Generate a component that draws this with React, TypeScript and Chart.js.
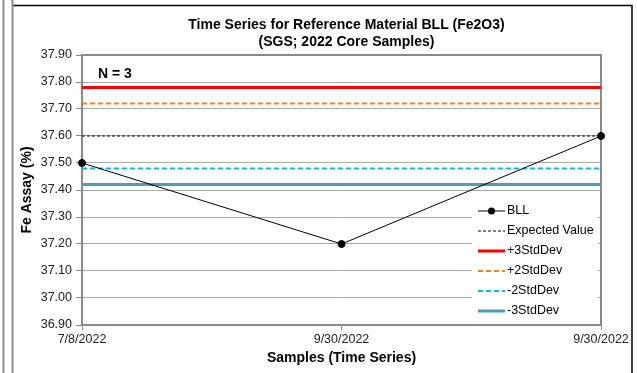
import React, { useEffect, useRef } from "react";
import { Chart, registerables } from "chart.js";

Chart.register(...registerables);

const categories = ["7/8/2022", "9/30/2022", "9/30/2022"];
const bllValues = [37.5, 37.2, 37.6];
const expectedValues = [37.6, 37.6, 37.6];
const plus3Values = [37.78, 37.78, 37.78];
const plus2Values = [37.72, 37.72, 37.72];
const minus2Values = [37.48, 37.48, 37.48];
const minus3Values = [37.42, 37.42, 37.42];
const titleLines = ["Time Series for Reference Material BLL (Fe2O3)", "(SGS; 2022 Core Samples)"];
const nLabel = "N = 3";
const yMin = 36.9;
const yMax = 37.9;
const yStep = 0.1;

const FONT = "'Liberation Sans', Arial, sans-serif";

const decor = {
  id: "decor",
  beforeDraw(chart: any) {
    const ctx = chart.ctx;
    ctx.save();
    ctx.fillStyle = "#ffffff";
    ctx.fillRect(0, 0, chart.width, chart.height);
    ctx.strokeStyle = "#8c8c8c";
    ctx.lineWidth = 2;
    ctx.beginPath();
    ctx.moveTo(3.5, 0);
    ctx.lineTo(3.5, chart.height);
    ctx.moveTo(12.5, 0);
    ctx.lineTo(12.5, chart.height);
    ctx.stroke();
    ctx.strokeStyle = "#000000";
    ctx.lineWidth = 1.5;
    ctx.beginPath();
    ctx.moveTo(13.5, 5.5);
    ctx.lineTo(632, 5.5);
    ctx.lineTo(632, chart.height);
    ctx.stroke();
    ctx.restore();
  },
  beforeDatasetsDraw(chart: any) {
    const { ctx, chartArea: a } = chart;
    ctx.save();
    ctx.strokeStyle = "#8a8a8a";
    ctx.lineWidth = 2;
    ctx.strokeRect(a.left, a.top, a.right - a.left, a.bottom - a.top);
    ctx.restore();
  },
  afterDraw(chart: any) {
    const { ctx, chartArea: a } = chart;
    ctx.save();
    const cx = (a.left + a.right) / 2 + 5;
    ctx.fillStyle = "#000000";
    ctx.font = `bold 14px ${FONT}`;
    ctx.textAlign = "center";
    ctx.textBaseline = "middle";
    ctx.fillText(titleLines[0], cx, 25);
    ctx.fillText(titleLines[1], cx, 42);
    ctx.textAlign = "left";
    ctx.font = `bold 14px ${FONT}`;
    ctx.fillText(nLabel, a.left + 16, a.top + 19);
    // legend
    const boxLeft = a.right - 129;
    const boxTop = a.bottom - 125;
    ctx.fillStyle = "#ffffff";
    ctx.fillRect(boxLeft, boxTop, 126, 122);
    ctx.font = `12.5px ${FONT}`;
    chart.data.datasets.forEach((ds: any, i: number) => {
      const y = a.bottom - 114 + i * 20;
      const x0 = boxLeft + 6;
      const x1 = boxLeft + 33;
      ctx.save();
      ctx.strokeStyle = ds.borderColor;
      ctx.lineWidth = ds.borderWidth;
      ctx.setLineDash(ds.borderDash || []);
      ctx.beginPath();
      ctx.moveTo(x0, y);
      ctx.lineTo(x1, y);
      ctx.stroke();
      ctx.restore();
      if (ds.pointRadius > 0) {
        ctx.fillStyle = ds.pointBackgroundColor;
        ctx.beginPath();
        ctx.arc((x0 + x1) / 2, y, ds.pointRadius, 0, Math.PI * 2);
        ctx.fill();
      }
      ctx.fillStyle = "#000000";
      ctx.textAlign = "left";
      ctx.textBaseline = "middle";
      ctx.fillText(ds.label, x1 + 2, y);
    });
    ctx.restore();
  },
};

export default function App() {
  const ref = useRef<HTMLCanvasElement | null>(null);
  useEffect(() => {
    if (!ref.current) return;
    const flat = (label: string, data: number[], color: string, width: number, dash: number[]) => ({
      label,
      data,
      borderColor: color,
      backgroundColor: color,
      borderWidth: width,
      borderDash: dash,
      pointRadius: 0,
      pointHoverRadius: 0,
      fill: false,
      tension: 0,
    });
    const chart = new Chart(ref.current, {
      type: "line",
      data: {
        labels: categories,
        datasets: [
          {
            label: "BLL",
            data: bllValues,
            borderColor: "#000000",
            backgroundColor: "#000000",
            pointBackgroundColor: "#000000",
            pointBorderColor: "#000000",
            borderWidth: 1,
            pointRadius: 3.5,
            borderDash: [],
            fill: false,
            tension: 0,
          } as any,
          flat("Expected Value", expectedValues, "#000000", 1, [3, 2]),
          flat("+3StdDev", plus3Values, "#ff0000", 3, []),
          flat("+2StdDev", plus2Values, "#f58220", 2, [5, 3]),
          flat("-2StdDev", minus2Values, "#14b4f0", 2, [5, 3]),
          flat("-3StdDev", minus3Values, "#4a9fb8", 3, []),
        ],
      },
      options: {
        responsive: false,
        animation: false,
        devicePixelRatio: 1,
        layout: { padding: { left: 0, top: 55, right: 36, bottom: 0 } },
        plugins: {
          legend: { display: false },
          title: { display: false },
          tooltip: { enabled: false },
        },
        scales: {
          x: {
            type: "category",
            offset: false,
            afterFit: (s: any) => {
              s.height = 48;
            },
            grid: {
              display: true,
              drawOnChartArea: false,
              drawTicks: true,
              tickLength: 5,
              color: "#8a8a8a",
            },
            border: { display: false },
            ticks: {
              color: "#222222",
              font: { family: FONT, size: 12.5 },
              padding: 2,
              maxRotation: 0,
              autoSkip: false,
            },
            title: {
              display: true,
              text: "Samples (Time Series)",
              color: "#000000",
              font: { family: FONT, size: 14, weight: "bold" },
              padding: { top: 0, bottom: 6 },
            },
          },
          y: {
            min: yMin,
            max: yMax,
            afterFit: (s: any) => {
              s.width = 82;
            },
            grid: {
              color: "#aaaaaa",
              lineWidth: 1,
              drawTicks: true,
              tickLength: 6,
              tickColor: "#8a8a8a",
            },
            border: { display: false },
            ticks: {
              stepSize: yStep,
              color: "#222222",
              font: { family: FONT, size: 12.5 },
              padding: 4,
              callback: (v: any) => Number(v).toFixed(2),
            },
            title: {
              display: true,
              text: "Fe Assay (%)",
              color: "#000000",
              font: { family: FONT, size: 14, weight: "bold" },
              padding: { top: 19, bottom: 0 },
            },
          },
        },
      } as any,
      plugins: [decor],
    });
    return () => chart.destroy();
  }, []);
  return (
    <div style={{ position: "fixed", left: 0, top: 0, width: 637, height: 373, background: "#fff" }}>
      <canvas ref={ref} width={637} height={373} style={{ width: 637, height: 373, display: "block" }} />
    </div>
  );
}
